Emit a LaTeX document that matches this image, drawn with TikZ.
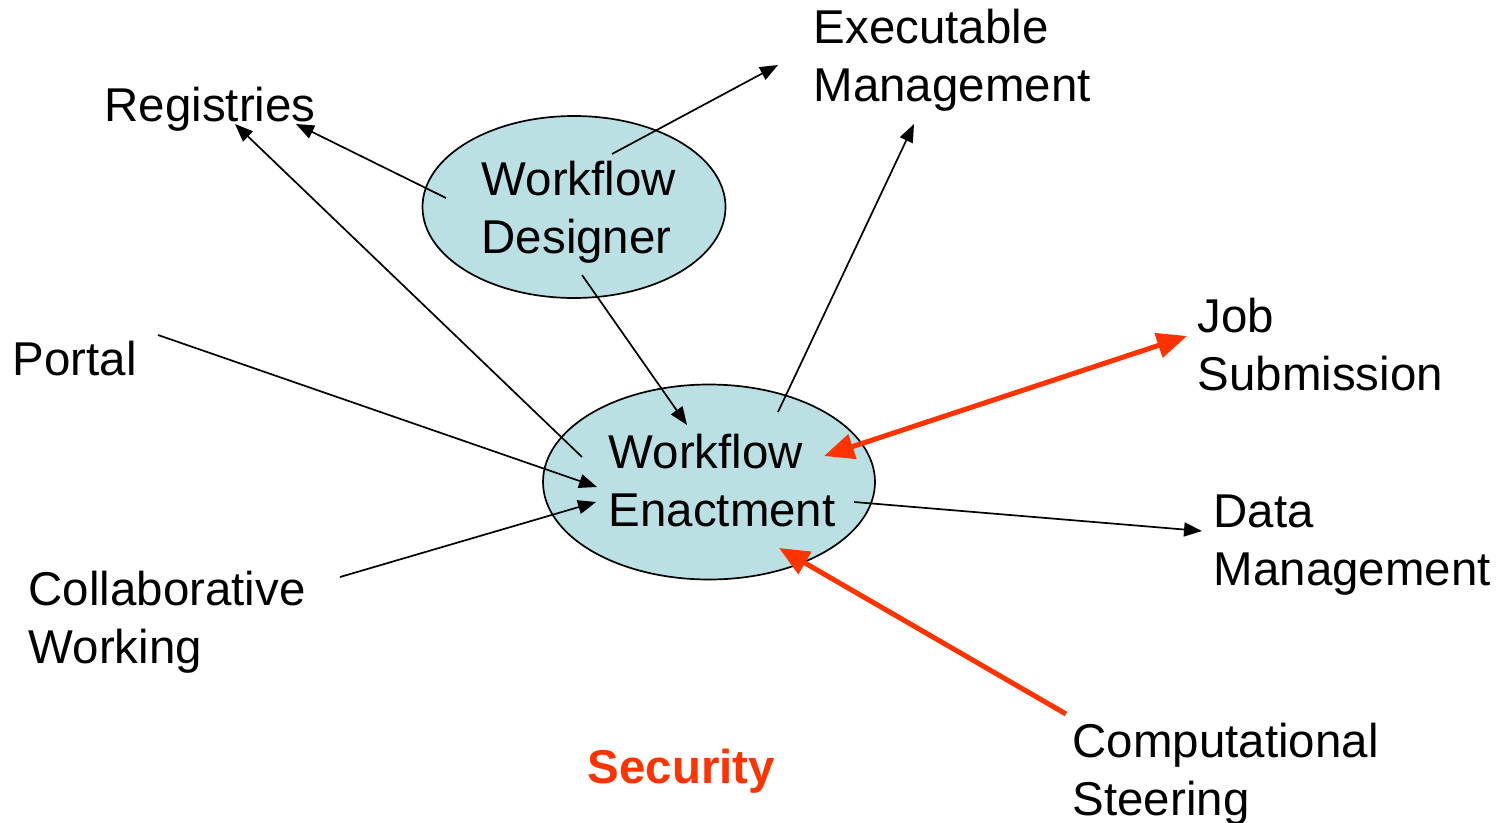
\documentclass[tikz,border=0pt]{standalone}
\usepackage{fontspec}
\setmainfont{Liberation Sans}
\usetikzlibrary{arrows.meta,shapes.geometric}
\definecolor{wfblue}{RGB}{187,224,227}
\definecolor{wfred}{RGB}{255,51,0}
\tikzset{
  lbl/.style   = { inner sep=0pt, anchor=base west, align=left,
    font=\fontsize{13.5pt}{16.5pt}\selectfont },
  wfell/.style = { draw, ellipse, fill=wfblue, line width=0.17mm, inner sep=0pt },
  conn/.style  = { line width=0.17mm, -{Triangle[length=1.8mm,width=1.4mm]} },
  hot/.style   = { draw=wfred, line width=0.5mm, -{Triangle[length=3mm,width=2.5mm]} },
  hothot/.style= { hot, {Triangle[length=3mm,width=2.5mm]}-{Triangle[length=3mm,width=2.5mm]} }
}
\begin{document}
\begin{tikzpicture}[x=0.1mm,y=-0.1mm]
      \useasboundingbox (0,0) rectangle (1500,822);
      % the two ellipses (base of a two-line text is its last line)
      \node[wfell, minimum width=30.3mm, minimum height=18.2mm] (des) at (574,207) {};
      \node[wfell, minimum width=33.2mm, minimum height=19.5mm] (enact) at (709,482) {};
      \node[lbl] (desT) at (481,253) {Workflow\\Designer};
      \node[lbl] (enactT) at (608,526) {Workflow\\Enactment};
      % surrounding services
      \node[lbl] (exe) at (813,101) {Executable\\Management};
      \node[lbl] (reg) at (104,121) {Registries};
      \node[lbl] (portal) at (12,375) {Portal};
      \node[lbl] (job) at (1197,390) {Job\\Submission};
      \node[lbl] (data) at (1213,585) {Data\\Management};
      \node[lbl] (collab) at (28,663) {Collaborative\\Working};
      \node[lbl] (comp) at (1072,815) {Computational\\Steering};
      \node[lbl, font=\fontsize{13.5pt}{16.5pt}\selectfont\bfseries, text=wfred] (sec) at (587,783) {Security};
      % line ends
      \coordinate (desReg) at (446,198);   \coordinate (regA) at (296,124);
      \coordinate (desExe) at (612,154);   \coordinate (exeA) at (778,65);
      \coordinate (desOut) at (582,275);   \coordinate (enactIn) at (687,425);
      \coordinate (enactReg) at (582,457); \coordinate (regB) at (235,124);
      \coordinate (enactExe) at (778,412); \coordinate (exeB) at (914,124);
      \coordinate (portalOut) at (158,335); \coordinate (portalIn) at (597,487);
      \coordinate (collabOut) at (340,577); \coordinate (collabIn) at (596,502);
      \coordinate (enactData) at (854,502); \coordinate (dataIn) at (1202,531);
      \coordinate (enactJob) at (824,456); \coordinate (jobIn) at (1187,336);
      \coordinate (compOut) at (1066,714); \coordinate (enactComp) at (779,548);
      \draw[conn] (desReg) -- (regA);
      \draw[conn] (desExe) -- (exeA);
      \draw[conn] (desOut) -- (enactIn);
      \draw[conn] (enactReg) -- (regB);
      \draw[conn] (enactExe) -- (exeB);
      \draw[conn] (portalOut) -- (portalIn);
      \draw[conn] (collabOut) -- (collabIn);
      \draw[conn] (enactData) -- (dataIn);
      \draw[hothot] (enactJob) -- (jobIn);
      \draw[hot] (compOut) -- (enactComp);
    \end{tikzpicture}
\end{document}
